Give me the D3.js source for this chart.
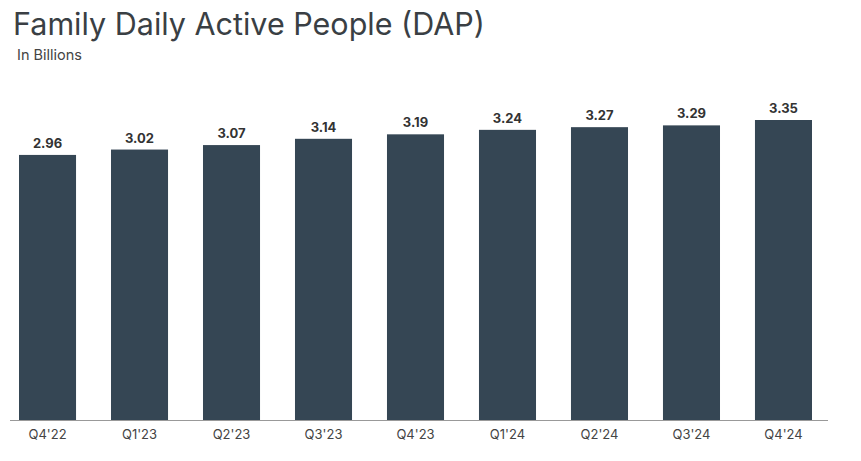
<!DOCTYPE html>
<html><head><meta charset="utf-8">
<script src="https://cdn.jsdelivr.net/npm/d3@7"></script>
<style>body{margin:0;background:#fff;font-family:Inter,"Open Sans",sans-serif}</style>
</head><body><div class="container"></div>
<script>
const quarters = ["Q4'22","Q1'23","Q2'23","Q3'23","Q4'23","Q1'24","Q2'24","Q3'24","Q4'24"];
const dap = [2.96,3.02,3.07,3.14,3.19,3.24,3.27,3.29,3.35];

const WIDTH = 861, HEIGHT = 461, BASE = 420;
const svg = d3.select(".container").append("svg")
  .attr("width", WIDTH).attr("height", HEIGHT);

const x = d3.scaleBand().domain(quarters).range([19, 812]).paddingInner(0.38).paddingOuter(0);
const y = d3.scaleLinear().domain([0, 3.35]).range([BASE, 120]);

svg.append("text").attr("x", 13).attr("y", 35)
  .attr("font-size", 30.5).attr("fill", "#3a3f44").text("Family Daily Active People (DAP)");
svg.append("text").attr("x", 17).attr("y", 60)
  .attr("font-size", 14.5).attr("fill", "#444").text("In Billions");

svg.append("g").selectAll("rect").data(dap).join("rect")
  .attr("x", (d, i) => x(quarters[i])).attr("width", x.bandwidth())
  .attr("y", d => y(d)).attr("height", d => BASE - y(d))
  .attr("fill", "#354654");

svg.append("g").selectAll("text").data(dap).join("text")
  .attr("x", (d, i) => x(quarters[i]) + x.bandwidth() / 2)
  .attr("y", d => y(d) - 7)
  .attr("text-anchor", "middle").attr("font-size", 13).attr("font-weight", 700)
  .attr("fill", "#333").text(d => d.toFixed(2));

const axis = svg.append("g").attr("transform", `translate(0,${BASE})`)
  .call(d3.axisBottom(x).tickSize(0).tickPadding(10));
axis.select(".domain").attr("d", "M10,0.5H828").attr("stroke", "#999");
axis.selectAll("text").attr("font-size", 13).attr("fill", "#444")
  .attr("font-family", "Inter,'Open Sans',sans-serif");
</script></body></html>
